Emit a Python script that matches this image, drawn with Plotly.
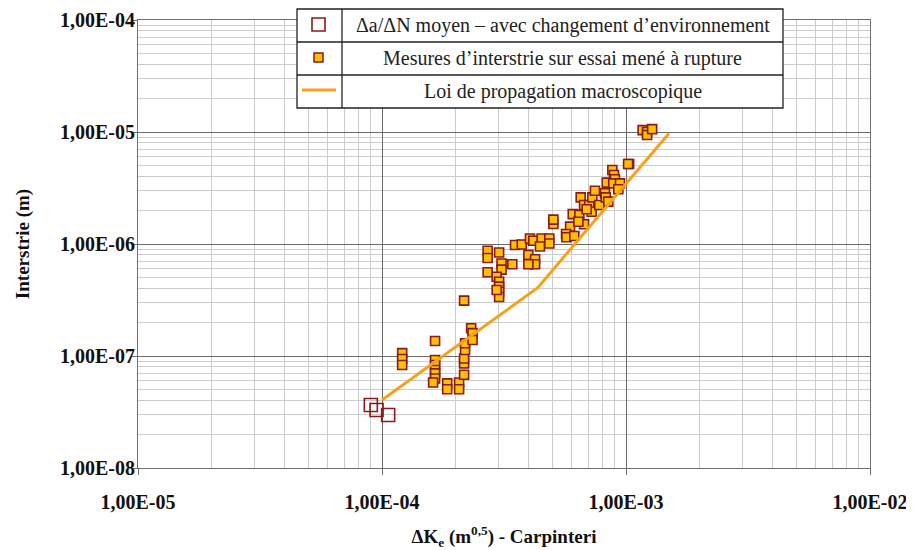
import plotly.graph_objects as go

# ---------------- data ----------------
dk_moyen = [9.0e-5, 9.5e-5, 1.06e-4]
da_moyen = [3.65e-8, 3.3e-8, 2.97e-8]

dk_mesures = [
    1.21e-4, 1.21e-4, 1.21e-4,
    1.65e-4, 1.65e-4, 1.65e-4, 1.65e-4, 1.65e-4, 1.65e-4, 1.62e-4,
    1.85e-4, 1.85e-4, 2.07e-4, 2.07e-4,
    2.17e-4, 2.17e-4, 2.17e-4, 2.17e-4, 2.19e-4, 2.19e-4,
    2.32e-4, 2.35e-4, 2.35e-4,
    2.71e-4, 2.71e-4, 2.71e-4, 3.02e-4, 3.09e-4, 3.09e-4, 3.42e-4,
    2.95e-4, 3.02e-4, 3.02e-4, 3.02e-4, 3.02e-4, 2.95e-4,
    3.51e-4, 3.74e-4, 4.04e-4, 4.17e-4, 4.51e-4, 4.85e-4, 4.85e-4, 4.44e-4,
    3.98e-4, 4.24e-4, 4.24e-4, 3.98e-4,
    5.04e-4, 5.04e-4, 5.90e-4, 5.68e-4, 5.70e-4, 6.14e-4, 6.73e-4,
    6.05e-4, 6.44e-4, 6.38e-4, 6.52e-4, 6.73e-4, 7.07e-4, 7.23e-4, 6.90e-4,
    7.28e-4, 7.46e-4, 7.77e-4, 8.20e-4, 8.26e-4, 8.46e-4, 8.34e-4,
    8.79e-4, 8.93e-4, 9.01e-4, 8.87e-4, 9.45e-4, 9.30e-4,
    1.03e-3, 1.02e-3,
    1.17e-3, 1.22e-3, 1.22e-3, 1.28e-3,
]
interstrie = [
    1.06e-7, 9.4e-8, 8.3e-8,
    1.36e-7, 9.2e-8, 8.3e-8, 7.5e-8, 7.0e-8, 6.3e-8, 5.8e-8,
    5.7e-8, 5.05e-8, 5.8e-8, 5.05e-8,
    6.8e-8, 3.12e-7, 8.6e-8, 9.5e-8, 1.13e-7, 1.3e-7,
    1.77e-7, 1.6e-7, 1.39e-7,
    8.7e-7, 7.5e-7, 5.6e-7, 8.4e-7, 6.7e-7, 5.9e-7, 6.6e-7,
    5.1e-7, 4.6e-7, 4.16e-7, 3.75e-7, 3.36e-7, 3.88e-7,
    9.8e-7, 9.9e-7, 1.12e-6, 1.07e-6, 1.12e-6, 1.12e-6, 1.01e-6, 9.5e-7,
    8.0e-7, 7.3e-7, 6.6e-7, 6.6e-7,
    1.51e-6, 1.65e-6, 1.43e-6, 1.23e-6, 1.15e-6, 1.18e-6, 1.5e-6,
    1.85e-6, 1.82e-6, 1.58e-6, 2.61e-6, 2.23e-6, 2.23e-6, 1.94e-6, 2.04e-6,
    2.61e-6, 2.99e-6, 2.23e-6, 2.84e-6, 2.61e-6, 2.39e-6, 3.53e-6,
    4.58e-6, 4.13e-6, 3.78e-6, 3.48e-6, 3.48e-6, 3.08e-6,
    5.18e-6, 5.18e-6,
    1.04e-5, 1.0e-5, 9.4e-6, 1.06e-5,
]

dk_loi = [1.0e-4, 2.0e-4, 3.0e-4, 4.0e-4, 4.35e-4, 4.6e-4, 5.0e-4, 7.0e-4, 1.0e-3, 1.5e-3]
loi = [4.05e-8, 1.2e-7, 2.27e-7, 3.57e-7, 4.07e-7, 4.7e-7, 5.8e-7, 1.38e-6, 3.45e-6, 9.7e-6]

x_tickvals = [1e-5, 1e-4, 1e-3, 1e-2]
x_ticktext = ["1,00E-05", "1,00E-04", "1,00E-03", "1,00E-02"]
y_tickvals = [1e-8, 1e-7, 1e-6, 1e-5, 1e-4]
y_ticktext = ["1,00E-08", "1,00E-07", "1,00E-06", "1,00E-05", "1,00E-04"]

legend_labels = [
    "\u0394a/\u0394N moyen \u2013 avec changement d\u2019environnement",
    "Mesures d\u2019interstrie sur essai men\u00e9 \u00e0 rupture",
    "Loi de propagation macroscopique",
]

# ---------------- styles ----------------
DARKRED = "#8B1A1A"
GOLD = "#FFC000"
ORANGE = "#F9A01B"
SERIF = "Liberation Serif"

x_minor = [k * 10.0 ** e for e in range(-5, -2) for k in range(2, 10)]
y_minor = [k * 10.0 ** e for e in range(-8, -4) for k in range(2, 10)]

fig = go.Figure()
fig.add_trace(go.Scatter(
    x=dk_moyen, y=da_moyen, mode="markers", name=legend_labels[0],
    marker=dict(symbol="square-open", size=13, color=DARKRED, line=dict(width=1.6, color=DARKRED)),
    showlegend=False,
))
fig.add_trace(go.Scatter(
    x=dk_mesures, y=interstrie, mode="markers", name=legend_labels[1],
    marker=dict(symbol="square", size=9, color=GOLD, line=dict(width=1.6, color=DARKRED)),
    showlegend=False,
))
fig.add_trace(go.Scatter(
    x=dk_loi, y=loi, mode="lines", name=legend_labels[2],
    line=dict(color=ORANGE, width=3),
    showlegend=False,
))

axis_common = dict(
    type="log", showline=True, mirror=True, linecolor="#6f6f6f", linewidth=1,
    showgrid=True, gridcolor="#6a6a6a", gridwidth=1,
    ticks="outside", ticklen=6, tickcolor="#6f6f6f",
    tickfont=dict(family=SERIF, size=20, color="#111", weight="bold"),
    zeroline=False, automargin=False,
)
fig.update_xaxes(
    **axis_common, range=[-5, -2], tickmode="array",
    tickvals=x_tickvals, ticktext=x_ticktext, ticklabelstandoff=10,
    minor=dict(tickmode="array", tickvals=x_minor, showgrid=True, gridcolor="#cccccc", ticks=""),
    title=dict(text="\u0394K<sub>e</sub> (m<sup>0,5</sup>) - Carpinteri",
               font=dict(family=SERIF, size=19, color="#111", weight="bold"), standoff=18),
)
fig.update_yaxes(
    **axis_common, range=[-8, -4], tickmode="array",
    tickvals=y_tickvals, ticktext=y_ticktext, ticklabelstandoff=-8,
    minor=dict(tickmode="array", tickvals=y_minor, showgrid=True, gridcolor="#cccccc", ticks=""),
    title=dict(text="Interstrie (m)",
               font=dict(family=SERIF, size=19, color="#111", weight="bold"), standoff=25),
)

# ---------------- legend table (decoration) ----------------
# page offset of the plotting div (browser body margin)
OFF = 8
W, H = 914 - OFF, 550 - OFF
L, R, T, B = 138 - OFF, 870 - OFF, 20 - OFF, 468 - OFF

def px(xp):
    return (xp - OFF - L) / (R - L)
def py(yp):
    return (B - (yp - OFF)) / (B - T)

shapes = []
box_l, box_r, box_t, box_b, sep_x = 297, 783, 9, 108, 342
rows = [9, 42, 75, 108]
shapes.append(dict(type="rect", xref="paper", yref="paper", x0=px(box_l), x1=px(box_r),
                   y0=py(box_b), y1=py(box_t), line=dict(color="#222", width=1.3), fillcolor="white",
                   layer="above"))
shapes.append(dict(type="line", xref="paper", yref="paper", x0=px(sep_x), x1=px(sep_x),
                   y0=py(box_b), y1=py(box_t), line=dict(color="#222", width=1.3), layer="above"))
for r in rows[1:-1]:
    shapes.append(dict(type="line", xref="paper", yref="paper", x0=px(box_l), x1=px(box_r),
                       y0=py(r), y1=py(r), line=dict(color="#222", width=1.3), layer="above"))
# symbols
shapes.append(dict(type="rect", xref="paper", yref="paper", x0=px(312), x1=px(325),
                   y0=py(31), y1=py(18), line=dict(color=DARKRED, width=1.6), fillcolor="white", layer="above"))
shapes.append(dict(type="rect", xref="paper", yref="paper", x0=px(314), x1=px(323),
                   y0=py(62), y1=py(53), line=dict(color=DARKRED, width=1.5), fillcolor=GOLD, layer="above"))
shapes.append(dict(type="line", xref="paper", yref="paper", x0=px(302), x1=px(336),
                   y0=py(90), y1=py(90), line=dict(color=ORANGE, width=3), layer="above"))

annotations = []
for i, lab in enumerate(legend_labels):
    yc = (rows[i] + rows[i + 1]) / 2
    annotations.append(dict(text=lab, xref="paper", yref="paper", x=px((sep_x + box_r) / 2), y=py(yc),
                            xanchor="center", yanchor="middle", showarrow=False,
                            font=dict(family=SERIF, size=20, color="#222")))

fig.update_layout(
    width=W, height=H,
    margin=dict(l=L, r=W - R, t=T, b=H - B, autoexpand=False),
    plot_bgcolor="white", paper_bgcolor="white",
    shapes=shapes, annotations=annotations,
    showlegend=False,
)

fig.write_html("out.html")
